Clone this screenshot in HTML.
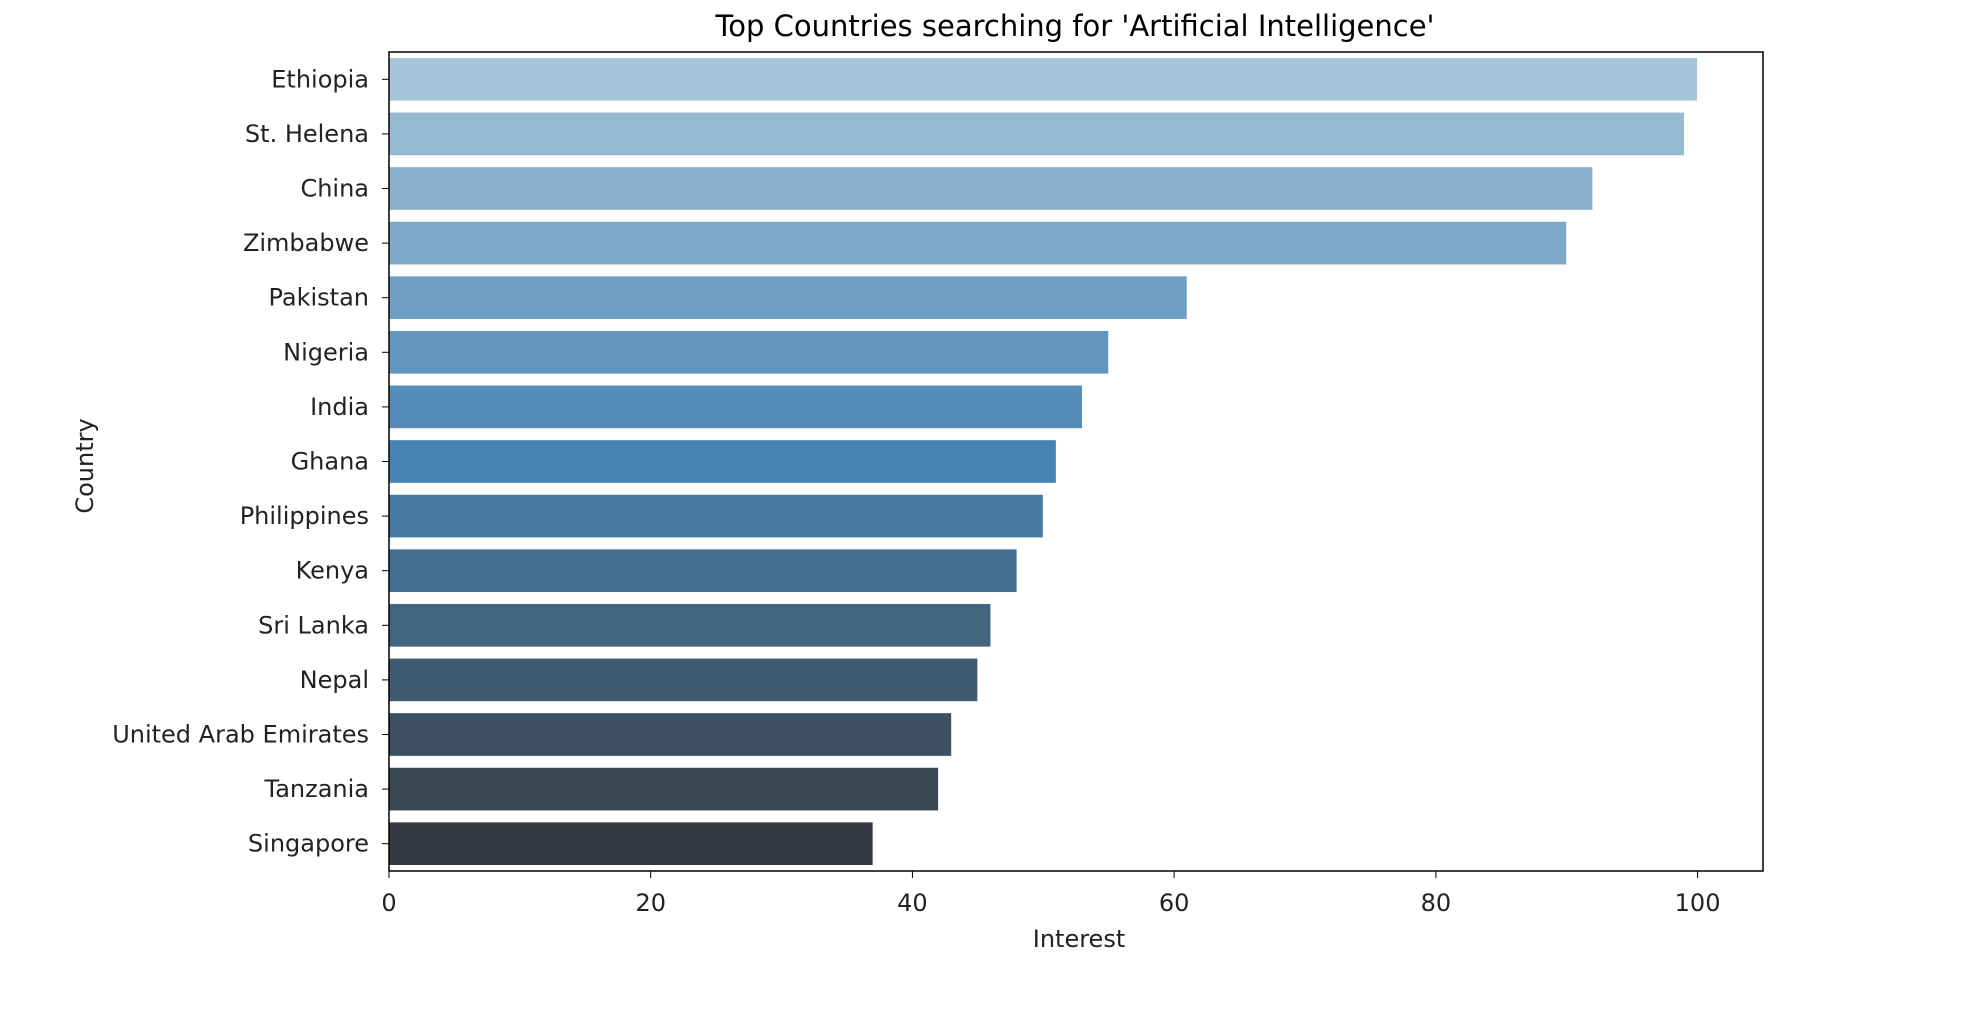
<!DOCTYPE html>
<html><head><meta charset="utf-8"><style>
body{margin:0;background:#fff;}
svg{display:block;font-family:"DejaVu Sans","Liberation Sans",sans-serif;}
</style></head><body>
<svg id="chart" width="1976" height="1026">
<text x="1075" y="36" text-anchor="middle" font-size="29" fill="#000">Top Countries searching for 'Artificial Intelligence'</text>
<g id="bars"></g>
<g id="xticks"></g>
<g id="yticks"></g>
<rect id="frame" x="389" y="52" width="1374" height="819" fill="none" stroke="#000" stroke-width="1.5"/>
<text x="1079" y="947" text-anchor="middle" font-size="24" fill="#222">Interest</text>
<text x="0" y="0" transform="translate(93,466) rotate(-90)" text-anchor="middle" font-size="24" fill="#222">Country</text>
</svg>
<script>
const countries=["Ethiopia","St. Helena","China","Zimbabwe","Pakistan","Nigeria","India","Ghana","Philippines","Kenya","Sri Lanka","Nepal","United Arab Emirates","Tanzania","Singapore"];
const interest=[100,99,92,90,61,55,53,51,50,48,46,45,43,42,37];
const xTicks=[0,20,40,60,80,100];
const colors=["#a6c5d8","#97bad3","#8ab1cc","#7ea8c8","#6fa0c4","#6296bd","#548dba","#4684b3","#477aa0","#456f90","#426580","#3f5a71","#3d5062","#394753","#363b42"];
const L=389,R=1763,T=52,B=871,XMAX=105;
const NS="http://www.w3.org/2000/svg";
function xs(v){return L+v/XMAX*(R-L);}
function ys(i){return T+(i+0.5)*(B-T)/countries.length;}
const band=(B-T)/countries.length;
const bars=document.getElementById('bars'),xt=document.getElementById('xticks'),yt=document.getElementById('yticks');
countries.forEach((c,i)=>{
  const r=document.createElementNS(NS,'rect');
  r.setAttribute('x',xs(0));r.setAttribute('y',ys(i)-band*0.4);
  r.setAttribute('width',xs(interest[i])-xs(0));r.setAttribute('height',band*0.8);
  r.setAttribute('fill',colors[i]);r.setAttribute('stroke','#fff');r.setAttribute('stroke-width','1');
  
  
  bars.appendChild(r);
  const tk=document.createElementNS(NS,'line');
  tk.setAttribute('x1',L-7);tk.setAttribute('x2',L);tk.setAttribute('y1',ys(i));tk.setAttribute('y2',ys(i));tk.setAttribute('stroke','#000');
  
  
  yt.appendChild(tk);
  const t=document.createElementNS(NS,'text');
  t.setAttribute('x',L-20);t.setAttribute('y',ys(i)+8);t.setAttribute('text-anchor','end');t.setAttribute('font-size','24');t.setAttribute('fill','#222');
  t.textContent=c;
  
  
  yt.appendChild(t);
});
xTicks.forEach(v=>{
  const tk=document.createElementNS(NS,'line');
  tk.setAttribute('x1',xs(v));tk.setAttribute('x2',xs(v));tk.setAttribute('y1',B);tk.setAttribute('y2',B+7);tk.setAttribute('stroke','#000');
  
  
  xt.appendChild(tk);
  const t=document.createElementNS(NS,'text');
  t.setAttribute('x',xs(v));t.setAttribute('y',B+40);t.setAttribute('text-anchor','middle');t.setAttribute('font-size','24');t.setAttribute('fill','#222');
  t.textContent=v;
  
  
  xt.appendChild(t);
});
</script>
</body></html>
